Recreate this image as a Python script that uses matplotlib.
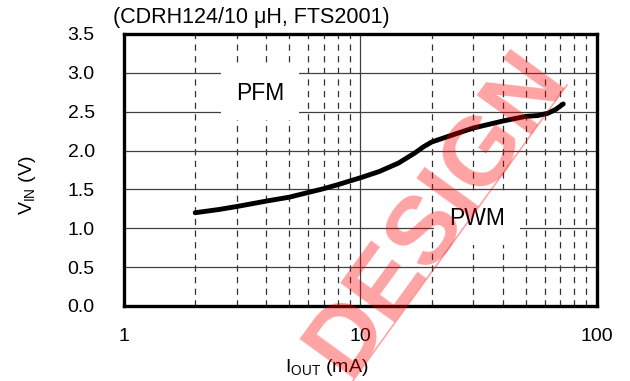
import matplotlib
matplotlib.use("Agg")
import matplotlib.pyplot as plt
from matplotlib.lines import Line2D

plt.rcParams['font.family'] = ['Liberation Sans', 'DejaVu Sans']
plt.rcParams['mathtext.fontset'] = 'custom'
plt.rcParams['mathtext.rm'] = 'Liberation Sans'
plt.rcParams['mathtext.it'] = 'Liberation Sans:italic'

# output current [mA] vs. input voltage at the PFM/PWM switch-over
iout = [2, 2.5, 3, 4, 5, 6, 7, 8, 10, 12, 14.5, 17, 18.5, 20, 25, 30, 40, 50, 56, 62, 67, 72]
vin = [1.20, 1.24, 1.28, 1.35, 1.40, 1.46, 1.51, 1.56, 1.65, 1.73, 1.84, 1.97, 2.05, 2.11,
       2.21, 2.29, 2.38, 2.44, 2.45, 2.48, 2.53, 2.60]

yticks = [0.0, 0.5, 1.0, 1.5, 2.0, 2.5, 3.0, 3.5]
xticks = [1, 10, 100]
xticklabels = ['1', '10', '100']

fig = plt.figure(figsize=(6.3, 3.81), dpi=100)
ax = fig.add_axes([0.1968, 0.1969, 0.7508, 0.7139])

ax.plot(iout, vin, color='black', lw=3.5, solid_capstyle='round', solid_joinstyle='round', zorder=4)

ax.set_xscale('log')
ax.set_xlim(1, 100)
ax.set_ylim(0, 3.5)
ax.set_xticks(xticks)
ax.set_xticklabels(xticklabels)
ax.set_yticks(yticks)
ax.set_yticklabels(['%.1f' % v for v in yticks])

ax.grid(which='major', axis='both', ls='-', color='#404040', lw=0.9)
ax.grid(which='minor', axis='x', ls=(0, (5, 4.3)), color='#303030', lw=0.9)
ax.tick_params(which='both', length=0, labelsize=14)
ax.tick_params(axis='y', pad=21)
ax.tick_params(axis='x', pad=16)
ax.set_axisbelow(True)

for s in ax.spines.values():
    s.set_linewidth(2.4)

# mode region labels
ax.text(3.76, 2.74, 'PFM', fontsize=16.5, ha='center', va='center', zorder=3,
        bbox=dict(facecolor='white', edgecolor='none', pad=11))
ax.text(31.1, 1.13, 'PWM', fontsize=16.5, ha='center', va='center', zorder=3,
        bbox=dict(facecolor='white', edgecolor='none', pad=11))

fig.text(113 / 630, 1 - 18 / 381, '(CDRH124/10 μH, FTS2001)', fontsize=15.5, ha='left', va='center')
fig.text(327 / 630, 1 - 367 / 381, r'I$_{\mathrm{OUT}}$ (mA)', fontsize=14, ha='center', va='center')
fig.text(27 / 630, 1 - 185 / 381, r'V$_{\mathrm{IN}}$ (V)', fontsize=14, ha='center', va='center', rotation=90)

# red stamp across the plot, with its underline
fig.text(0.899, 0.798, 'DESIGN', fontsize=70, fontweight='bold', color='red', alpha=0.36,
         rotation=54, rotation_mode='anchor', ha='right', va='baseline', zorder=10)
fig.add_artist(Line2D([0.538, 0.900], [-0.05, 0.777], transform=fig.transFigure,
                      color='red', alpha=0.36, lw=1.2, zorder=10))

fig.savefig('out.png', dpi=100)
